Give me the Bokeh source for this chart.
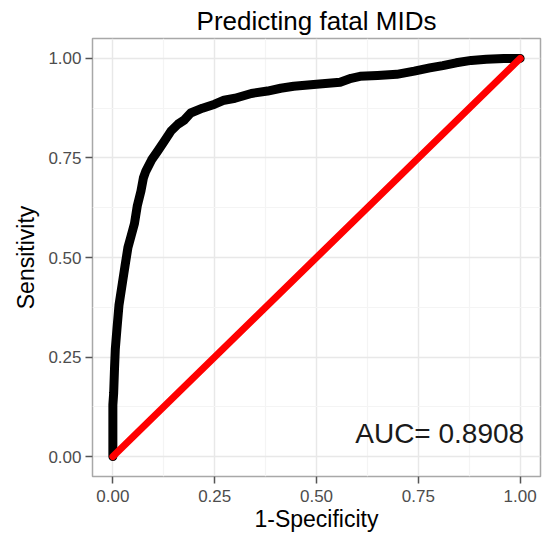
from bokeh.plotting import figure
from bokeh.models import FixedTicker, Label, Range1d
from bokeh.embed import file_html
from bokeh.resources import INLINE

# ROC curve points (1-Specificity, Sensitivity)
fpr = [0.0, 0.0, 0.0, 0.002, 0.004, 0.006, 0.01, 0.015, 0.024, 0.03, 0.037, 0.045,
       0.053, 0.06, 0.069, 0.075, 0.081, 0.095, 0.110, 0.125, 0.143, 0.16,
       0.175, 0.191, 0.22, 0.25, 0.273, 0.30, 0.34, 0.38, 0.412, 0.444, 0.50,
       0.558, 0.585, 0.607, 0.65, 0.697, 0.74, 0.778, 0.81, 0.843, 0.88,
       0.917, 0.96, 1.0]
tpr = [0.0, 0.05, 0.13, 0.16, 0.22, 0.27, 0.32, 0.38, 0.44, 0.48, 0.525, 0.555,
       0.585, 0.63, 0.667, 0.70, 0.717, 0.745, 0.767, 0.79, 0.818, 0.835,
       0.845, 0.863, 0.875, 0.885, 0.895, 0.900, 0.912, 0.918, 0.925, 0.930,
       0.935, 0.940, 0.950, 0.955, 0.957, 0.960, 0.968, 0.976, 0.982, 0.989,
       0.995, 0.998, 1.0, 1.0]
diag_x = [0.0, 1.0]
diag_y = [0.0, 1.0]
ticks = [0.0, 0.25, 0.5, 0.75, 1.0]
tick_labels = {0.0: "0.00", 0.25: "0.25", 0.5: "0.50", 0.75: "0.75", 1.0: "1.00"}
minor = [0.125, 0.375, 0.625, 0.875]
auc_text = "AUC= 0.8908"

FONT = "Liberation Sans"

p = figure(width=543, height=541, output_backend="svg", toolbar_location=None,
           x_range=Range1d(-0.05, 1.05), y_range=Range1d(-0.05, 1.05),
           min_border_left=92, min_border_right=3, min_border_top=38,
           min_border_bottom=65, title="Predicting fatal MIDs")
p.background_fill_color = "white"
p.border_fill_color = "white"
p.outline_line_color = "#A8A8A8"
p.outline_line_width = 1.5

p.title.align = "center"
p.title.text_font = FONT
p.title.text_font_size = "26px"
p.title.text_font_style = "normal"
p.title.text_color = "#000000"
p.title.standoff = 5

for ax in (p.xaxis[0], p.yaxis[0]):
    ax.ticker = FixedTicker(ticks=ticks, minor_ticks=minor)
    ax.major_label_overrides = tick_labels
    ax.axis_line_color = None
    ax.major_tick_in = 0
    ax.major_tick_out = 7
    ax.major_tick_line_color = "#555555"
    ax.major_tick_line_width = 1.5
    ax.minor_tick_line_color = None
    ax.major_label_text_font = FONT
    ax.major_label_text_font_size = "17px"
    ax.major_label_text_color = "#4D4D4D"
    ax.axis_label_text_font = FONT
    ax.axis_label_text_font_size = "23px"
    ax.axis_label_text_font_style = "normal"
    ax.axis_label_text_color = "#000000"

p.xaxis.axis_label = "1-Specificity"
p.yaxis.axis_label = "Sensitivity"
p.xaxis.major_label_standoff = 6
p.yaxis.major_label_standoff = 4
p.xaxis.axis_label_standoff = 1
p.yaxis.axis_label_standoff = 6

for g in (p.xgrid[0], p.ygrid[0]):
    g.ticker = FixedTicker(ticks=ticks, minor_ticks=minor)
    g.grid_line_color = "#E8E8E8"
    g.grid_line_width = 1.5
    g.minor_grid_line_color = "#F4F4F4"
    g.minor_grid_line_width = 1.2

p.line(fpr, tpr, line_color="black", line_width=9, line_cap="round", line_join="round")
p.line(diag_x, diag_y, line_color="#FF0000", line_width=7, line_cap="round")

p.add_layout(Label(x=1.0, y=0.0, text=auc_text, text_align="right",
                   text_baseline="bottom", text_font=FONT, text_font_size="28px",
                   text_color="#1A1A1A", x_offset=4, y_offset=8))

open("out.html", "w").write(file_html(p, INLINE))
